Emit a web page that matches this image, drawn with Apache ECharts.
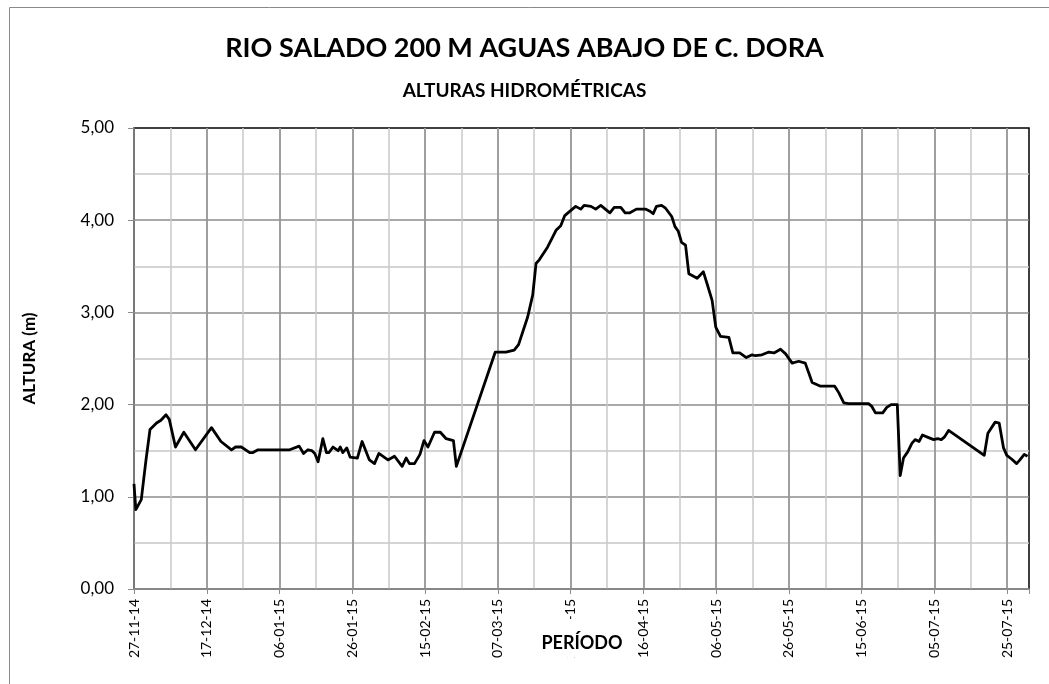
<!DOCTYPE html>
<html>
<head>
<meta charset="utf-8">
<script src="https://cdn.jsdelivr.net/npm/echarts@6/dist/echarts.min.js"></script>
<style>
  html, body { margin: 0; padding: 0; background: #fff; }
  #chart { width: 1049px; height: 684px; }
</style>
</head>
<body>
<div id="chart"></div>
<script>
  // días desde el 27-11-14
  var dias = [
    0, 0.5, 2, 3.3, 4.4, 6.2, 7.4, 8.8, 9.7, 11.4, 13.7, 16.9, 21.3, 23.9, 26.8, 27.9, 29.5, 31.8, 32.7, 34.1,
    42.8, 45.4, 46.6, 47.8, 48.9, 49.7, 50.6, 51.9, 52.9, 53.6, 54.7, 56.1, 56.7, 57.4, 58.5, 59.4, 61.4, 62.7,
    64.7, 66.1, 67.3, 69.8, 71.6, 73.7, 74.8, 75.7, 77.1, 78.6, 79.7, 80.8, 82.6, 84.2, 85.8, 87.8, 88.6,
    99.3, 102.2, 104.5, 105.7, 108.2, 109.6, 110.5, 111.4, 113.7, 116, 117.3, 118.4, 119.6, 121.4, 122.8,
    123.7, 125.6, 126.9, 128.3, 130.8, 132, 133.8, 135, 136.3, 138.1, 140.7, 141.7, 142.7, 143.6, 145,
    146.1, 147.8, 148.7, 149.6, 150.5, 151.6, 152.5, 154.8, 156.5, 157.6, 158.9, 159.9, 161.2, 163.5,
    164.6, 166.5, 168.3, 169.9, 170.8, 172.6, 174.5, 175.9, 177.7, 179.1, 180.9, 182.7, 184.5, 185.5,
    186.4, 188.7, 192.6, 193.7, 195.1, 196.4, 201.9, 202.8, 203.8, 205.8, 206.9, 208.1, 209.8, 210.6,
    211.5, 212.7, 213.8, 214.7, 215.8, 216.7, 217.9, 219.8, 220.9, 221.9, 222.8, 223.9, 233.7, 234.7,
    236.7, 237.8, 239, 239.9, 241.2, 242.6, 243.5, 244.7, 245.6
  ];
  // altura (m)
  var alturas = [
    1.14, 0.86, 0.97, 1.40, 1.73, 1.80, 1.83, 1.89, 1.84, 1.54, 1.70, 1.51, 1.75, 1.60, 1.51, 1.54, 1.54, 1.48, 1.48, 1.51,
    1.51, 1.55, 1.47, 1.51, 1.50, 1.47, 1.38, 1.63, 1.48, 1.48, 1.54, 1.50, 1.54, 1.48, 1.53, 1.43, 1.42, 1.60,
    1.40, 1.36, 1.47, 1.40, 1.44, 1.33, 1.42, 1.36, 1.36, 1.46, 1.61, 1.54, 1.70, 1.70, 1.63, 1.61, 1.33,
    2.57, 2.57, 2.59, 2.65, 2.95, 3.19, 3.53, 3.57, 3.71, 3.89, 3.94, 4.05, 4.09, 4.15, 4.12,
    4.16, 4.15, 4.12, 4.16, 4.08, 4.14, 4.14, 4.08, 4.08, 4.12, 4.12, 4.10, 4.07, 4.15, 4.16,
    4.13, 4.04, 3.93, 3.88, 3.76, 3.73, 3.42, 3.37, 3.44, 3.30, 3.13, 2.84, 2.74, 2.73,
    2.56, 2.56, 2.51, 2.54, 2.53, 2.54, 2.57, 2.56, 2.60, 2.55, 2.45, 2.47, 2.45, 2.34,
    2.24, 2.20, 2.20, 2.13, 2.02, 2.01, 2.01, 1.98, 1.91, 1.91, 1.97, 2.00, 2.00, 1.23,
    1.42, 1.49, 1.58, 1.62, 1.60, 1.67, 1.65, 1.62, 1.63, 1.62, 1.65, 1.72, 1.45, 1.69,
    1.81, 1.80, 1.53, 1.45, 1.41, 1.36, 1.40, 1.46, 1.44
  ];
  var diaFinal = 246;   // 31-07-15
  var pasoEtiqueta = 20;

  function etiquetaFecha(d) {
    if (d % pasoEtiqueta !== 0 || d > 240) return '';
    var f = new Date(2014, 10, 27 + d);
    var dd = ('0' + f.getDate()).slice(-2);
    var mm = ('0' + (f.getMonth() + 1)).slice(-2);
    var yy = ('' + f.getFullYear()).slice(-2);
    return dd + '-' + mm + '-' + yy;
  }

  var datos = dias.map(function (d, i) { return [d, alturas[i]]; });
  var fuente = 'Lato, "Liberation Sans", sans-serif';
  var gris = '#8c8c8c';
  var grisClaro = '#c8c8c8';

  var myChart = echarts.init(document.getElementById('chart'));
  var option = {
    backgroundColor: '#fff',
    animation: false,
    title: [{
      text: 'RIO SALADO 200 M AGUAS ABAJO DE C. DORA',
      left: 'center',
      top: 30,
      textStyle: { fontFamily: fuente, fontWeight: 'bold', fontSize: 27, color: '#000' }
    }, {
      text: 'ALTURAS HIDROMÉTRICAS',
      left: 'center',
      top: 76,
      textStyle: { fontFamily: fuente, fontWeight: 'bold', fontSize: 19, color: '#000' }
    }],
    grid: {
      left: 134, top: 128, right: 20, bottom: 95,
      show: true, borderColor: '#000', borderWidth: 1.5, backgroundColor: '#fff'
    },
    xAxis: [{
      type: 'value',
      min: 0, max: diaFinal, interval: pasoEtiqueta,
      z: 2,
      axisLine: { show: true, lineStyle: { color: gris, width: 1.5 } },
      axisTick: { show: true, length: 5, lineStyle: { color: gris } },
      axisLabel: {
        rotate: 90, margin: 10, fontFamily: fuente, fontSize: 14, color: '#000',
        formatter: etiquetaFecha
      },
      splitLine: { show: true, showMaxLine: false, showMinLine: false, lineStyle: { color: gris, width: 1.5 } }
    }, {
      type: 'value',
      min: 0, max: diaFinal, interval: 10,
      z: 1,
      axisLine: { show: false }, axisTick: { show: false }, axisLabel: { show: false },
      splitLine: { show: true, showMaxLine: false, showMinLine: false, lineStyle: { color: grisClaro, width: 1.5 } }
    }],
    yAxis: {
      type: 'value',
      min: 0, max: 5, interval: 1,
      name: 'ALTURA (m)',
      nameLocation: 'middle',
      nameGap: 96,
      nameTextStyle: { fontFamily: fuente, fontWeight: 'bold', fontSize: 17, color: '#000' },
      axisLine: { show: true, lineStyle: { color: gris, width: 1.5 } },
      axisTick: { show: true, length: 6, lineStyle: { color: gris } },
      axisLabel: {
        margin: 20, fontFamily: fuente, fontSize: 17, color: '#000',
        formatter: function (v) { return v.toFixed(2).replace('.', ','); }
      },
      splitLine: { show: true, showMaxLine: false, lineStyle: { color: gris, width: 1.5 } },
      minorTick: { show: false, splitNumber: 2 },
      minorSplitLine: { show: true, lineStyle: { color: grisClaro, width: 1.5 } }
    },
    series: [{
      type: 'line',
      xAxisIndex: 0,
      data: datos,
      symbol: 'none',
      z: 10,
      lineStyle: { color: '#000', width: 2.8, join: 'round' }
    }],
    graphic: [{
      type: 'rect',
      shape: { x: 9.5, y: 7.5, width: 1200, height: 900 },
      style: { fill: 'none', stroke: '#8a8a8a', lineWidth: 1 },
      silent: true, z: 100
    }, {
      type: 'rect',
      shape: { x: 540, y: 619, width: 86, height: 38 },
      style: { fill: '#fff' },
      silent: true, z: 100
    }, {
      type: 'text',
      x: 582, y: 643,
      style: {
        text: 'PERÍODO', fontFamily: fuente, fontWeight: 'bold', fontSize: 18, fill: '#000',
        align: 'center', verticalAlign: 'middle'
      },
      silent: true, z: 101
    }]
  };
  myChart.setOption(option);
</script>
</body>
</html>
